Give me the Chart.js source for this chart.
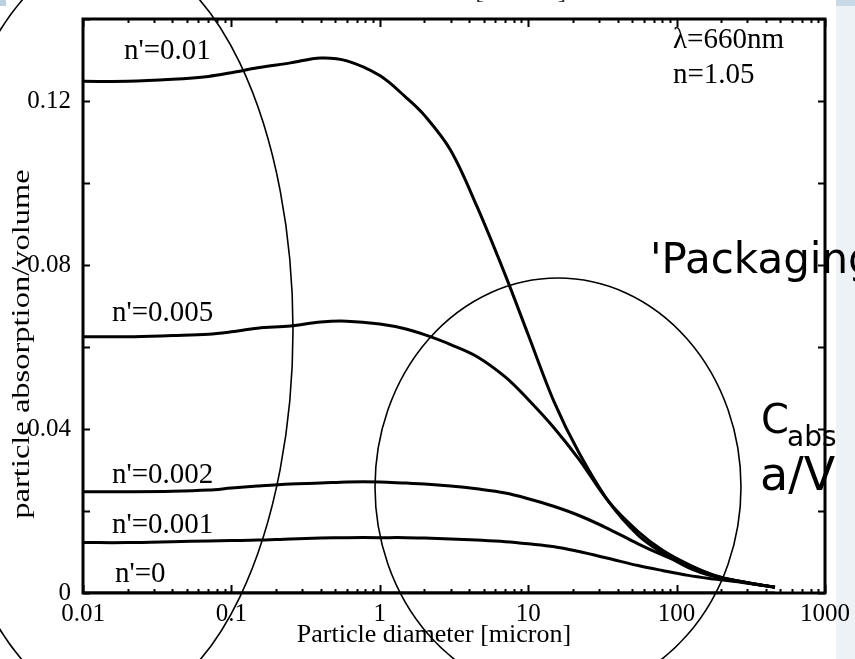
<!DOCTYPE html>
<html>
<head>
<meta charset="utf-8">
<script src="https://cdn.jsdelivr.net/npm/chart.js@4.4.1/dist/chart.umd.min.js"></script>
<style>
  html, body { margin: 0; padding: 0; background: #fff; }
  #wrap { position: relative; width: 855px; height: 659px; }
</style>
</head>
<body>
<div id="wrap"><canvas id="chart"></canvas></div>
<script>
/* particle absorption per volume vs diameter, one curve per imaginary index n' */
const diameters = [0.01, 0.02, 0.04, 0.07, 0.1, 0.15, 0.25, 0.4, 0.6, 1, 1.5, 2, 3, 4.5, 7,
                   10, 15, 22, 35, 55, 80, 120, 180, 270, 460];

const absN010 = [0.1248, 0.1248, 0.1253, 0.1260, 0.1269, 0.1281, 0.1293, 0.1305, 0.1298, 0.1262,
                 0.1209, 0.1165, 0.1080, 0.0944, 0.0776, 0.0630, 0.0465, 0.0342, 0.0222, 0.0141,
                 0.0098, 0.0062, 0.0040, 0.0028, 0.0014];
const absN005 = [0.0625, 0.0625, 0.0628, 0.0631, 0.0637, 0.0646, 0.0651, 0.0661, 0.0663, 0.0656,
                 0.0644, 0.0630, 0.0606, 0.0577, 0.0527, 0.0472, 0.0402, 0.0326, 0.0222, 0.0150,
                 0.0105, 0.0070, 0.0043, 0.0028, 0.0014];
const absN002 = [0.0247, 0.0247, 0.0248, 0.0251, 0.0256, 0.0261, 0.0266, 0.0268, 0.0271, 0.0271,
                 0.0268, 0.0266, 0.0261, 0.0254, 0.0244, 0.0230, 0.0211, 0.0189, 0.0156, 0.0120,
                 0.0093, 0.0067, 0.0043, 0.0028, 0.0014];
const absN001 = [0.0123, 0.0123, 0.0125, 0.0127, 0.0128, 0.0129, 0.0132, 0.0134, 0.0135, 0.0135,
                 0.0135, 0.0134, 0.0132, 0.0129, 0.0125, 0.0120, 0.0113, 0.0101, 0.0084, 0.0067,
                 0.0055, 0.0043, 0.0034, 0.0026, 0.0014];
const absN000 = diameters.map(() => 0);   // n'=0: no absorption at all

const seriesNames = ["n'=0.01", "n'=0.005", "n'=0.002", "n'=0.001", "n'=0"];
const seriesData  = [absN010, absN005, absN002, absN001, absN000];

const xTickValues = [0.01, 0.1, 1, 10, 100, 1000];
const xTickLabels = ["0.01", "0.1", "1", "10", "100", "1000"];
const yTickValues = [0, 0.04, 0.08, 0.12];
const yTickLabels = ["0", "0.04", "0.08", "0.12"];

const SERIF = "'Liberation Serif', 'Times New Roman', serif";
const HAND  = "'DejaVu Sans', sans-serif";

// text placed on the figure (pixel baselines)
const curveNotes = [
  { text: "n'=0.01",  x: 124, y: 59 },
  { text: "n'=0.005", x: 112, y: 321 },
  { text: "n'=0.002", x: 112, y: 483 },
  { text: "n'=0.001", x: 112, y: 533 },
  { text: "n'=0",     x: 115, y: 582 },
  { text: "\u03bb=660nm", x: 673, y: 48 },
  { text: "n=1.05",   x: 673, y: 83 },
];

/* ---------- drawing helpers ---------- */

const figurePlugin = {
  id: "figure",
  beforeDraw(chart) {
    const ctx = chart.ctx;
    ctx.save();
    ctx.fillStyle = "#fff";
    ctx.fillRect(0, 0, chart.width, chart.height);
    // slide background peeking in on the right and the top-left corner
    ctx.fillStyle = "#edf2f6";
    ctx.fillRect(836, 0, chart.width - 836, chart.height);
    ctx.fillStyle = "#c9d9e6";
    ctx.fillRect(836, 0, chart.width - 836, 6);
    ctx.fillStyle = "#bcd0e2";
    ctx.fillRect(0, 0, 6, 6);
    ctx.restore();
  },
  afterDatasetsDraw(chart) {
    const { ctx, chartArea: a, scales } = chart;
    const x = scales.x, y = scales.y;
    ctx.save();
    ctx.strokeStyle = "#000";
    ctx.lineWidth = 2;
    ctx.beginPath();
    // log ticks, pointing inward, top and bottom
    for (let e = -2; e <= 3; e++) {
      for (let m = 1; m <= 9; m++) {
        const v = m * Math.pow(10, e);
        if (v > 1000.0001) break;
        const px = Math.round(x.getPixelForValue(v)) + 0.5;
        const len = m === 1 ? 8 : 4;
        ctx.moveTo(px, a.bottom); ctx.lineTo(px, a.bottom - len);
        ctx.moveTo(px, a.top);    ctx.lineTo(px, a.top + len);
      }
    }
    // y ticks every 0.02, left and right
    y.ticks.forEach(t => {
      const py = Math.round(y.getPixelForValue(t.value)) + 0.5;
      ctx.moveTo(a.left, py);  ctx.lineTo(a.left + 7, py);
      ctx.moveTo(a.right, py); ctx.lineTo(a.right - 7, py);
    });
    ctx.stroke();
    ctx.lineWidth = 3;
    ctx.strokeRect(a.left, a.top, a.right - a.left, a.bottom - a.top);
    ctx.restore();
  },
  afterDraw(chart) {
    const { ctx, chartArea: a } = chart;
    ctx.save();
    ctx.fillStyle = "#000";
    ctx.textBaseline = "alphabetic";

    ctx.font = "29px " + SERIF;
    curveNotes.forEach(n => ctx.fillText(n.text, n.x, n.y));

    // axis titles (the top one is the cut-off title of the figure above)
    ctx.font = "26px " + SERIF;
    ctx.textAlign = "center";
    ctx.fillText("Particle diameter [micron]", 434, 642);
    ctx.fillStyle = "#333";
    ctx.fillText("Particle diameter [micron]", 429, -2);
    ctx.fillStyle = "#000";
    ctx.save();
    ctx.translate(29, 344);
    ctx.rotate(-Math.PI / 2);
    ctx.scale(1.25, 1);
    ctx.fillText("particle absorption/volume", 0, 0);
    ctx.restore();

    // hand-drawn looking notes
    ctx.textAlign = "left";
    ctx.font = "42px " + HAND;
    ctx.fillText("'Packaging", 650, 273);
    ctx.font = "40px " + HAND;
    ctx.fillText("C", 761, 433);
    ctx.font = "28px " + HAND;
    ctx.fillText("abs", 787, 446);
    ctx.font = "46px " + HAND;
    ctx.fillText("a/V", 760, 490);

    // the two ellipses circled on the slide
    ctx.strokeStyle = "#000";
    ctx.lineWidth = 1.6;
    ctx.beginPath();
    ctx.ellipse(111, 330, 182, 378, 0, 0, Math.PI * 2);
    ctx.stroke();
    ctx.beginPath();
    ctx.ellipse(558, 487, 183, 209, 0, 0, Math.PI * 2);
    ctx.stroke();
    ctx.restore();
  }
};

/* ---------- chart ---------- */

const datasets = seriesData.map((vals, i) => ({
  label: seriesNames[i],
  data: diameters.map((d, k) => ({ x: d, y: vals[k] })),
  borderColor: "#000",
  borderWidth: 3,
  pointRadius: 0,
  fill: false,
  tension: 0.35,
}));

new Chart(document.getElementById("chart"), {
  type: "line",
  data: { datasets },
  options: {
    responsive: true,
    maintainAspectRatio: false,
    animation: false,
    layout: { padding: { top: 8, right: 30, left: 0, bottom: 0 } },
    plugins: { legend: { display: false }, tooltip: { enabled: false } },
    scales: {
      x: {
        type: "logarithmic",
        min: 0.01,
        max: 1000,
        grid: { display: false },
        border: { display: false },
        afterFit: s => { s.height = 66; },
        ticks: {
          autoSkip: false,
          maxRotation: 0,
          padding: -2,
          color: "#000",
          font: { family: SERIF, size: 25 },
          callback: v => {
            const i = xTickValues.findIndex(t => Math.abs(t - v) / t < 1e-6);
            return i >= 0 ? xTickLabels[i] : "";
          },
        },
      },
      y: {
        min: 0,
        max: 0.14,
        grid: { display: false },
        border: { display: false },
        afterFit: s => { s.width = 83; },
        ticks: {
          stepSize: 0.02,
          padding: 4,
          color: "#000",
          font: { family: SERIF, size: 25 },
          callback: v => {
            const i = yTickValues.findIndex(t => Math.abs(t - v) < 1e-6);
            return i >= 0 ? yTickLabels[i] : "";
          },
        },
      },
    },
  },
  plugins: [figurePlugin],
});
</script>
</body>
</html>
